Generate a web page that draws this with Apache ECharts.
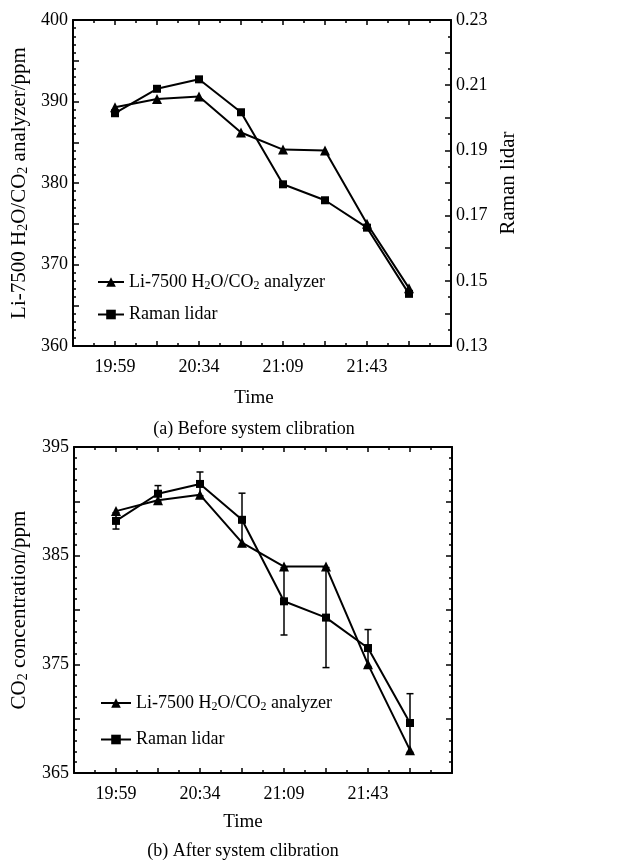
<!DOCTYPE html>
<html>
<head>
<meta charset="utf-8">
<script src="https://cdn.jsdelivr.net/npm/echarts@6/dist/echarts.min.js"></script>
<style>html,body{margin:0;padding:0;background:#fff;}#c{width:618px;height:861px;}</style>
</head>
<body>
<div id="c"></div>
<script>
// ---- data ----
const pointIndex = [0, 1, 2, 3, 4, 5, 6, 7];
const timeLabels = ['19:59', '20:34', '21:09', '21:43'];
const liBefore = [389.3, 390.3, 390.6, 386.2, 384.1, 384.0, 375.0, 367.1];
const ramanBefore = [0.2014, 0.2089, 0.2118, 0.2017, 0.1796, 0.1747, 0.1663, 0.1460];
const liAfter = [389.1, 390.1, 390.6, 386.2, 384.0, 384.0, 375.0, 367.1];
const ramanAfter = [388.2, 390.7, 391.6, 388.3, 380.8, 379.3, 376.5, 369.6];
const ramanAfterErr = [0.75, 0.75, 1.1, 2.45, 3.1, 4.6, 1.7, 2.7];

const LI = 'Li-7500 H{s|2}O/CO{s|2} analyzer';
const RA = 'Raman lidar';
const FONT = 'Liberation Serif';
const rich = { s: { fontSize: 12, fontFamily: FONT, color: '#000', verticalAlign: 'bottom', padding: [7, 0, 0, 0] } };
const richName = { s: { fontSize: 14, fontFamily: FONT, color: '#000', verticalAlign: 'bottom', padding: [8, 0, 0, 0] } };

const chart = echarts.init(document.getElementById('c'));

function xAx(gridIndex, top) {
  return {
    type: 'value', gridIndex, min: -1, max: 8, interval: 1,
    position: top ? 'top' : 'bottom',
    axisLine: { show: true, onZero: false, lineStyle: { color: '#000', width: 2 } },
    axisTick: { show: true, inside: true, length: 5, lineStyle: { color: '#000', width: 1.5 } },
    minorTick: { show: true, splitNumber: 2, length: 3, lineStyle: { color: '#000', width: 1.5 } },
    splitLine: { show: false },
    axisLabel: top ? { show: false } : {
      show: true, margin: 12, color: '#000', fontFamily: FONT, fontSize: 18,
      formatter: v => (v >= 0 && v % 2 === 0 && v / 2 < timeLabels.length) ? timeLabels[v / 2] : ''
    }
  };
}
function yAx(gridIndex, pos, min, max, interval, fmt, minorSplit, name, nameGap) {
  return {
    type: 'value', gridIndex, min, max, interval, position: pos,
    name: name || '', nameLocation: 'middle', nameRotate: 90, nameGap: nameGap || 0,
    nameTextStyle: { color: '#000', fontFamily: FONT, fontSize: 21, rich: richName },
    axisLine: { show: true, onZero: false, lineStyle: { color: '#000', width: 2 } },
    axisTick: { show: true, inside: true, length: 6, lineStyle: { color: '#000', width: 1.5 } },
    minorTick: { show: true, splitNumber: minorSplit, length: 3, lineStyle: { color: '#000', width: 1.5 } },
    splitLine: { show: false },
    axisLabel: fmt ? { show: true, margin: 5, color: '#000', fontFamily: FONT, fontSize: 18, formatter: fmt } : { show: false }
  };
}

const lineStyle = { color: '#000', width: 2 };

chart.setOption({
  animation: false,
  backgroundColor: '#fff',
  grid: [
    { left: 73, top: 20, width: 378, height: 326 },
    { left: 74, top: 447, width: 378, height: 326 }
  ],
  xAxis: [xAx(0, false), xAx(0, true), xAx(1, false), xAx(1, true)],
  yAxis: [
    yAx(0, 'left', 360, 400, 5, v => (Math.round(v) % 10 === 0 ? String(Math.round(v)) : ''), 5,
      'Li-7500 H{s|2}O/CO{s|2} analyzer/ppm', 41),
    yAx(0, 'right', 0.13, 0.23, 0.01, v => (Math.round(v * 100) % 2 === 1 ? v.toFixed(2) : ''), 2,
      'Raman lidar', 46),
    yAx(1, 'left', 365, 395, 5, v => ((Math.round(v) - 365) % 10 === 0 ? String(Math.round(v)) : ''), 5,
      'CO{s|2} concentration/ppm', 44),
    yAx(1, 'right', 365, 395, 5, null, 5)
  ],
  legend: [
    {
      orient: 'vertical', left: 92, top: 268, itemWidth: 26, itemHeight: 12, itemGap: 14, itemTextGap: 9,
      data: [LI, RA], textStyle: { color: '#000', fontFamily: FONT, fontSize: 18, rich },
      formatter: n => n
    },
    {
      orient: 'vertical', left: 95, top: 689, itemWidth: 30, itemHeight: 12, itemGap: 18, itemTextGap: 8,
      data: [LI, RA], textStyle: { color: '#000', fontFamily: FONT, fontSize: 18, rich },
      formatter: n => n
    }
  ],
  graphic: [
    { type: 'text', x: 254, y: 398, style: { text: 'Time', font: '19px "Liberation Serif"', fill: '#000', textAlign: 'center', textVerticalAlign: 'middle' } },
    { type: 'text', x: 254, y: 429, style: { text: '(a) Before system clibration', font: '18px "Liberation Serif"', fill: '#000', textAlign: 'center', textVerticalAlign: 'middle' } },
    { type: 'text', x: 243, y: 822, style: { text: 'Time', font: '19px "Liberation Serif"', fill: '#000', textAlign: 'center', textVerticalAlign: 'middle' } },
    { type: 'text', x: 243, y: 851, style: { text: '(b) After system clibration', font: '18px "Liberation Serif"', fill: '#000', textAlign: 'center', textVerticalAlign: 'middle' } }
  ],
  series: [
    {
      name: LI, type: 'line', xAxisIndex: 0, yAxisIndex: 0,
      data: pointIndex.map((x, i) => [x, liBefore[i]]),
      symbol: 'triangle', symbolSize: 10, lineStyle, itemStyle: { color: '#000' }, z: 3
    },
    {
      name: RA, type: 'line', xAxisIndex: 0, yAxisIndex: 1,
      data: pointIndex.map((x, i) => [x, ramanBefore[i]]),
      symbol: 'rect', symbolSize: 8, lineStyle, itemStyle: { color: '#000' }, z: 3
    },
    {
      name: 'err', type: 'custom', xAxisIndex: 2, yAxisIndex: 2,
      data: pointIndex.map((x, i) => [x, ramanAfter[i] - ramanAfterErr[i], ramanAfter[i] + ramanAfterErr[i]]),
      encode: { x: 0, y: [1, 2] },
      renderItem: function (params, api) {
        const lo = api.coord([api.value(0), api.value(1)]);
        const hi = api.coord([api.value(0), api.value(2)]);
        const st = { stroke: '#000', lineWidth: 1.5 };
        return {
          type: 'group', children: [
            { type: 'line', shape: { x1: lo[0], y1: lo[1], x2: hi[0], y2: hi[1] }, style: st },
            { type: 'line', shape: { x1: lo[0] - 3.5, y1: lo[1], x2: lo[0] + 3.5, y2: lo[1] }, style: st },
            { type: 'line', shape: { x1: hi[0] - 3.5, y1: hi[1], x2: hi[0] + 3.5, y2: hi[1] }, style: st }
          ]
        };
      },
      z: 2, silent: true
    },
    {
      name: LI, type: 'line', xAxisIndex: 2, yAxisIndex: 2,
      data: pointIndex.map((x, i) => [x, liAfter[i]]),
      symbol: 'triangle', symbolSize: 10, lineStyle, itemStyle: { color: '#000' }, z: 3
    },
    {
      name: RA, type: 'line', xAxisIndex: 2, yAxisIndex: 2,
      data: pointIndex.map((x, i) => [x, ramanAfter[i]]),
      symbol: 'rect', symbolSize: 8, lineStyle, itemStyle: { color: '#000' }, z: 3
    }
  ]
});
</script>
</body>
</html>
